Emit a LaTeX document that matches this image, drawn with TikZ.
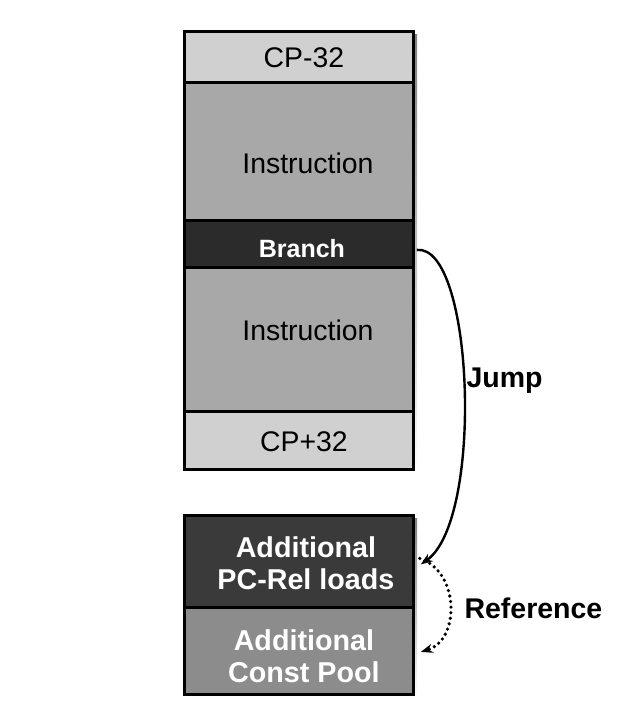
\documentclass[tikz,border=0pt]{standalone}
\usepackage{fontspec}
\setmainfont{Liberation Sans}
\usetikzlibrary{arrows.meta,positioning}
\definecolor{cplight}{HTML}{D0D0D0}
\definecolor{instr}{HTML}{A8A8A8}
\definecolor{branchdark}{HTML}{2B2B2B}
\definecolor{loadsdark}{HTML}{3A3A3A}
\definecolor{poolmid}{HTML}{8C8C8C}
\definecolor{shade}{HTML}{9A9A9A}
\tikzset{
  seg/.style={draw=black, line width=2.8pt, anchor=north west, inner sep=0pt,
    minimum width=229pt},
  plaintext/.style={inner sep=0pt, align=center, font=\fontsize{28.4}{32}\selectfont},
  boldtext/.style={inner sep=0pt, align=center, text=white,
    font=\fontsize{28.7}{32}\selectfont\bfseries},
  lbl/.style={font=\fontsize{28.5}{32}\selectfont\bfseries, anchor=west},
  jumparrow/.style={line width=2.4pt, -{Stealth[length=12pt,width=9pt]}},
  refarrow/.style={line width=3.6pt, line cap=round, dash pattern=on 0pt off 5.6pt,
    -{Stealth[length=12pt,width=9pt,line cap=butt]}},
}
\begin{document}
\begin{tikzpicture}[x=1pt,y=-1pt]
  \useasboundingbox (0,0) rectangle (634,718);
  \fill[white] (0,0) rectangle (634,718);

  % drop shadows of the two memory blocks
  \fill[shade] (187,34) rectangle (417,473);
  \fill[shade] (187,518) rectangle (417,698);

  % upper block: code around the branch
  \node[seg, fill=cplight, minimum height=51pt] (cpm) at (183,30) {};
  \node[seg, fill=instr, minimum height=138pt] (ins1) at (183,81) {};
  \node[seg, fill=branchdark, minimum height=47pt] (branch) at (183,219) {};
  \node[seg, fill=instr, minimum height=144pt] (ins2) at (183,266) {};
  \node[seg, fill=cplight, minimum height=58pt] (cpp) at (183,410) {};

  % lower block: extra loads and their constant pool
  \node[seg, fill=loadsdark, minimum height=92pt] (loads) at (183,514) {};
  \node[seg, fill=poolmid, minimum height=87pt] (pool) at (183,606) {};

  % texts of the segments
  \node[plaintext] (tcpm) at ([xshift=5pt,yshift=-1pt]cpm.center) {CP-32};
  \node[plaintext] (tins1) at ([xshift=9pt,yshift=-12pt]ins1.center) {Instruction};
  \node[inner sep=0pt, text=white, font=\fontsize{25}{28}\selectfont\bfseries]
       (tbranch) at ([xshift=3pt,yshift=-5pt]branch.center) {Branch};
  \node[plaintext] (tins2) at ([xshift=9pt,yshift=9pt]ins2.center) {Instruction};
  \node[plaintext] (tcpp) at ([xshift=5pt,yshift=-1pt]cpp.center) {CP+32};
  \node[boldtext] (tloads) at ([xshift=7pt,yshift=-2pt]loads.center) {Additional\\PC-Rel loads};
  \node[boldtext] (tpool) at ([xshift=5pt,yshift=-5pt]pool.center) {Additional\\Const Pool};

  % connectors
  \draw[jumparrow] ([xshift=2pt,yshift=-6pt]branch.east)
      .. controls (474,244) and (484,520) .. ([xshift=6pt,yshift=-3pt]loads.east);
  \draw[refarrow] ([xshift=5pt,yshift=3pt]loads.east)
      .. controls (460,572) and (460,640) .. ([xshift=6pt,yshift=-1pt]pool.east);

  \node[lbl] (jump) at (463,381) {Jump};
  \node[lbl] (reflbl) at (461,608) {Reference};
\end{tikzpicture}
\end{document}
